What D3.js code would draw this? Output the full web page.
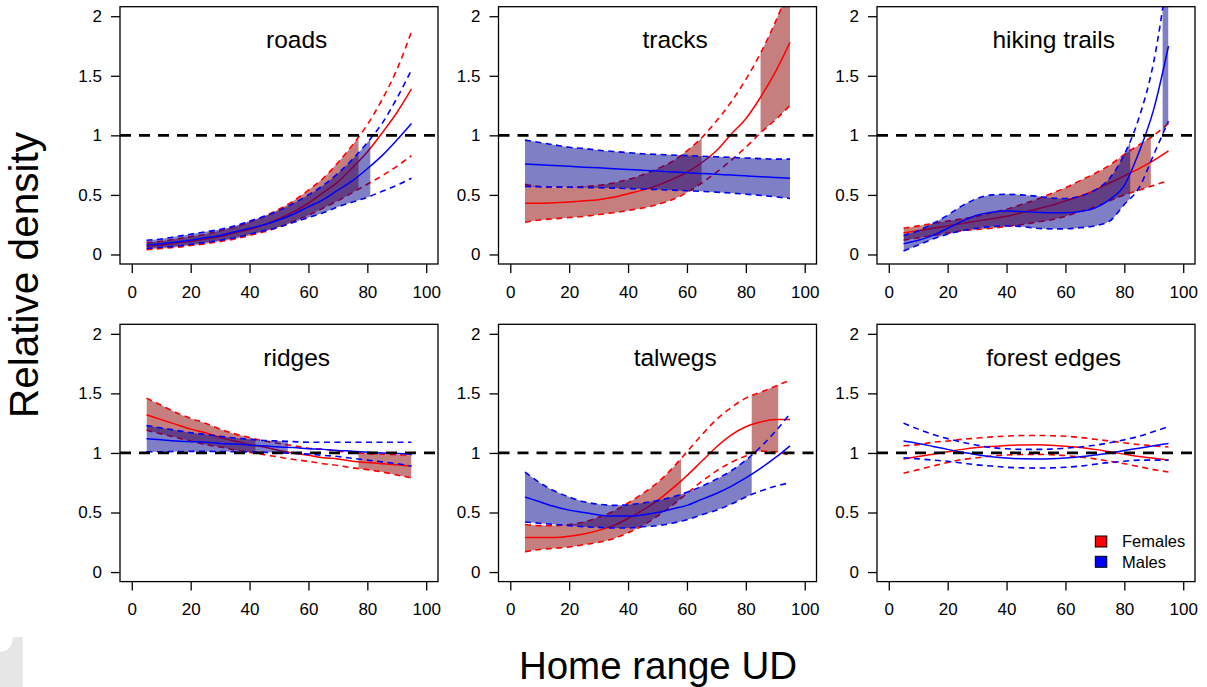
<!DOCTYPE html>
<html>
<head>
<meta charset="utf-8">
<script src="https://cdn.jsdelivr.net/npm/d3@7"></script>
<style>
html,body{margin:0;padding:0;background:#fff;}
svg{display:block;font-family:"Liberation Sans",Arial,Helvetica,sans-serif;}
</style>
</head>
<body>
<svg id="chart" width="1207" height="687"></svg>
<script>
// ---------------- DATA ----------------
const panelNames = ["roads", "tracks", "hiking trails", "ridges", "talwegs", "forest edges"];
const homeRange = [5, 10, 15, 20, 25, 30, 35, 40, 45, 50, 55, 60, 65, 70, 75, 80, 85, 90, 95];
const xTicks = [0, 20, 40, 60, 80, 100];
const yTicks = [0, 0.5, 1, 1.5, 2];
const yTickLabels = ["0", "0.5", "1", "1.5", "2"];
const seriesNames = ["Females", "Males"];

// roads
const roadsF = [0.07,0.08,0.095,0.11,0.13,0.15,0.18,0.21,0.25,0.30,0.36,0.43,0.52,0.61,0.73,0.86,1.02,1.19,1.39];
const roadsFlo = [0.04,0.05,0.06,0.075,0.09,0.11,0.13,0.16,0.19,0.23,0.28,0.33,0.39,0.45,0.52,0.59,0.66,0.74,0.83];
const roadsFhi = [0.10,0.11,0.13,0.15,0.17,0.20,0.23,0.27,0.32,0.38,0.45,0.54,0.64,0.77,0.92,1.09,1.30,1.55,1.87];
const roadsM = [0.08,0.09,0.105,0.12,0.14,0.16,0.19,0.22,0.25,0.29,0.34,0.40,0.46,0.54,0.62,0.72,0.83,0.96,1.10];
const roadsMlo = [0.05,0.06,0.07,0.085,0.10,0.12,0.14,0.17,0.20,0.23,0.27,0.31,0.35,0.40,0.44,0.48,0.53,0.58,0.64];
const roadsMhi = [0.12,0.13,0.15,0.17,0.19,0.21,0.24,0.28,0.32,0.37,0.43,0.50,0.58,0.68,0.80,0.94,1.10,1.31,1.55];
// tracks
const tracksF = [0.43,0.43,0.435,0.44,0.45,0.46,0.48,0.51,0.54,0.58,0.63,0.69,0.77,0.87,1.01,1.14,1.32,1.53,1.78];
const tracksFlo = [0.27,0.29,0.30,0.31,0.32,0.335,0.35,0.37,0.39,0.42,0.46,0.52,0.60,0.69,0.79,0.90,1.02,1.13,1.25];
const tracksFhi = [0.59,0.57,0.565,0.565,0.57,0.58,0.60,0.63,0.67,0.72,0.78,0.87,0.98,1.12,1.28,1.47,1.69,1.95,2.25];
const tracksM = [0.76,0.753,0.747,0.74,0.733,0.727,0.72,0.713,0.707,0.70,0.693,0.687,0.68,0.673,0.667,0.66,0.653,0.647,0.64];
const tracksMlo = [0.57,0.568,0.566,0.564,0.562,0.56,0.557,0.553,0.549,0.545,0.54,0.535,0.53,0.523,0.515,0.506,0.496,0.484,0.47];
const tracksMhi = [0.96,0.94,0.92,0.90,0.89,0.875,0.865,0.855,0.845,0.84,0.835,0.83,0.825,0.82,0.815,0.81,0.805,0.80,0.80];
// hiking trails
const hikingF = [0.18,0.20,0.22,0.24,0.26,0.28,0.30,0.32,0.35,0.38,0.41,0.45,0.49,0.54,0.60,0.66,0.72,0.79,0.87];
const hikingFlo = [0.12,0.14,0.16,0.18,0.20,0.21,0.22,0.235,0.25,0.27,0.29,0.32,0.36,0.40,0.45,0.50,0.54,0.58,0.62];
const hikingFhi = [0.22,0.24,0.26,0.28,0.30,0.32,0.35,0.38,0.42,0.46,0.51,0.56,0.62,0.68,0.75,0.84,0.92,1.00,1.10];
const hikingM = [0.09,0.12,0.16,0.22,0.28,0.33,0.355,0.365,0.36,0.355,0.35,0.35,0.36,0.39,0.46,0.58,0.86,1.22,1.75];
const hikingMlo = [0.03,0.08,0.13,0.17,0.20,0.22,0.235,0.24,0.235,0.22,0.215,0.215,0.225,0.24,0.28,0.42,0.56,0.84,1.12];
const hikingMhi = [0.16,0.20,0.26,0.33,0.41,0.47,0.50,0.505,0.50,0.49,0.475,0.47,0.49,0.54,0.64,0.84,1.15,1.62,2.40];
// ridges
const ridgesF = [1.32,1.28,1.24,1.20,1.17,1.13,1.10,1.07,1.05,1.02,1.00,0.98,0.96,0.95,0.93,0.92,0.91,0.90,0.89];
const ridgesFlo = [1.19,1.16,1.13,1.10,1.07,1.05,1.025,1.005,0.985,0.965,0.945,0.93,0.91,0.895,0.875,0.86,0.84,0.815,0.79];
const ridgesFhi = [1.46,1.40,1.34,1.29,1.25,1.20,1.16,1.13,1.10,1.08,1.06,1.04,1.03,1.015,1.005,0.995,0.99,0.985,0.98];
const ridgesM = [1.12,1.11,1.10,1.095,1.09,1.08,1.075,1.065,1.06,1.05,1.045,1.035,1.03,1.02,1.015,1.005,1.00,0.995,0.99];
const ridgesMlo = [1.01,1.01,1.012,1.013,1.013,1.012,1.01,1.008,1.005,1.002,0.997,0.99,0.98,0.97,0.955,0.94,0.925,0.91,0.89];
const ridgesMhi = [1.23,1.21,1.19,1.17,1.155,1.14,1.125,1.115,1.105,1.10,1.095,1.09,1.09,1.09,1.09,1.09,1.09,1.09,1.09];
// talwegs
const talwegsF = [0.29,0.29,0.29,0.30,0.32,0.35,0.39,0.45,0.52,0.60,0.70,0.81,0.93,1.05,1.15,1.22,1.26,1.28,1.28];
const talwegsFlo = [0.17,0.19,0.20,0.21,0.23,0.25,0.28,0.33,0.39,0.47,0.56,0.66,0.76,0.85,0.92,0.975,1.015,1.01,0.98];
const talwegsFhi = [0.40,0.39,0.39,0.40,0.42,0.46,0.51,0.58,0.66,0.75,0.87,1.01,1.15,1.28,1.38,1.46,1.51,1.56,1.61];
const talwegsM = [0.63,0.59,0.55,0.52,0.50,0.48,0.47,0.47,0.48,0.50,0.53,0.56,0.61,0.66,0.72,0.79,0.87,0.96,1.06];
const talwegsMlo = [0.42,0.41,0.40,0.39,0.38,0.375,0.37,0.37,0.38,0.39,0.41,0.44,0.48,0.52,0.57,0.63,0.68,0.72,0.75];
const talwegsMhi = [0.84,0.75,0.68,0.63,0.59,0.57,0.56,0.565,0.58,0.60,0.63,0.67,0.72,0.78,0.85,0.94,1.05,1.18,1.33];
// forest edges
const forestF = [0.95,0.97,0.99,1.01,1.03,1.045,1.055,1.063,1.067,1.068,1.065,1.057,1.045,1.03,1.01,0.99,0.97,0.955,0.94];
const forestFlo = [0.83,0.86,0.89,0.92,0.945,0.96,0.975,0.983,0.987,0.988,0.985,0.978,0.965,0.95,0.93,0.91,0.885,0.86,0.84];
const forestFhi = [1.06,1.07,1.09,1.10,1.115,1.125,1.135,1.142,1.146,1.147,1.145,1.14,1.13,1.115,1.10,1.085,1.07,1.06,1.05];
const forestM = [1.10,1.08,1.055,1.03,1.005,0.985,0.968,0.957,0.951,0.95,0.952,0.958,0.968,0.982,1.00,1.02,1.04,1.06,1.08];
const forestMlo = [0.96,0.95,0.94,0.93,0.915,0.90,0.89,0.88,0.875,0.873,0.875,0.88,0.89,0.905,0.92,0.93,0.94,0.94,0.94];
const forestMhi = [1.25,1.20,1.155,1.12,1.09,1.065,1.045,1.035,1.03,1.03,1.032,1.04,1.05,1.065,1.085,1.11,1.14,1.18,1.22];

// ranges of home range UD where the confidence band excludes 1 (shaded)
const shadeF = [[[5,77]], [[5,65],[85,95]], [[5,89]], [[5,42],[77,95]], [[5,58],[82,91]], []];
const shadeM = [[[5,81]], [[5,95]], [[5,82],[93,95]], [[5,53]], [[5,82]], []];

// ---------------- BUILD ----------------
const femaleSets = [
  [roadsF, roadsFlo, roadsFhi], [tracksF, tracksFlo, tracksFhi], [hikingF, hikingFlo, hikingFhi],
  [ridgesF, ridgesFlo, ridgesFhi], [talwegsF, talwegsFlo, talwegsFhi], [forestF, forestFlo, forestFhi]];
const maleSets = [
  [roadsM, roadsMlo, roadsMhi], [tracksM, tracksMlo, tracksMhi], [hikingM, hikingMlo, hikingMhi],
  [ridgesM, ridgesMlo, ridgesMhi], [talwegsM, talwegsMlo, talwegsMhi], [forestM, forestMlo, forestMhi]];

const svg = d3.select("#chart");
const W = 318, H = 257.3;
const colLeft = [120, 498.5, 877];
const rowTop = [6.7, 324.3];

const styles = {
  F: {line: "#ff0000", fill: "#8b0000", op: 0.5},
  M: {line: "#0000ff", fill: "#00008b", op: 0.5}
};

panelNames.forEach((name, i) => {
  const col = i % 3, row = Math.floor(i / 3);
  const left = colLeft[col], top = rowTop[row];
  const x = d3.scaleLinear().domain([-4, 104]).range([left, left + W]);
  const y = d3.scaleLinear().domain([-0.08, 2.08]).range([top + H, top]);
  const g = svg.append("g");

  const clipId = "clip" + i;
  svg.append("clipPath").attr("id", clipId)
    .append("rect").attr("x", left).attr("y", top).attr("width", W).attr("height", H);

  const plot = g.append("g").attr("clip-path", `url(#${clipId})`);

  const drawSeries = (sets, shades, st, key) => {
    const [mean, lo, hi] = sets;
    const pts = homeRange.map((h, k) => ({x: h, m: mean[k], lo: lo[k], hi: hi[k]}));
    const area = d3.area().curve(d3.curveMonotoneX)
      .x(d => x(d.x)).y0(d => y(d.lo)).y1(d => y(d.hi));
    shades.forEach((r, j) => {
      const cid = `sc${i}${key}${j}`;
      svg.append("clipPath").attr("id", cid).append("rect")
        .attr("x", x(r[0])).attr("y", top).attr("width", x(r[1]) - x(r[0])).attr("height", H);
      plot.append("g").attr("clip-path", `url(#${cid})`)
        .append("path").datum(pts).attr("d", area)
        .attr("fill", st.fill).attr("fill-opacity", st.op).attr("stroke", "none");
    });
    const line = acc => d3.line().curve(d3.curveMonotoneX).x(d => x(d.x)).y(d => y(acc(d)));
    plot.append("path").datum(pts).attr("d", line(d => d.lo))
      .attr("fill", "none").attr("stroke", st.line).attr("stroke-width", 1.6).attr("stroke-dasharray", "6,4.5");
    plot.append("path").datum(pts).attr("d", line(d => d.hi))
      .attr("fill", "none").attr("stroke", st.line).attr("stroke-width", 1.6).attr("stroke-dasharray", "6,4.5");
    plot.append("path").datum(pts).attr("d", line(d => d.m))
      .attr("fill", "none").attr("stroke", st.line).attr("stroke-width", 1.5);
  };

  drawSeries(femaleSets[i], shadeF[i], styles.F, "F");
  drawSeries(maleSets[i], shadeM[i], styles.M, "M");

  // reference line at 1
  plot.append("line").attr("x1", left).attr("x2", left + W)
    .attr("y1", y(1)).attr("y2", y(1))
    .attr("stroke", "#000").attr("stroke-width", 2.7).attr("stroke-dasharray", "11,8");

  // box
  g.append("rect").attr("x", left).attr("y", top).attr("width", W).attr("height", H)
    .attr("fill", "none").attr("stroke", "#000").attr("stroke-width", 1.3);

  // x axis
  const xa = g.append("g").attr("transform", `translate(0,${top + H})`)
    .call(d3.axisBottom(x).tickValues(xTicks).tickSize(9).tickPadding(6).tickFormat(d3.format("d")));
  xa.select(".domain").remove();
  xa.selectAll("line").attr("stroke", "#000").attr("stroke-width", 1.3);
  xa.selectAll("text").attr("font-size", 17).attr("font-family", "Liberation Sans, Arial, sans-serif")
    .attr("fill", "#000").attr("dy", "1.1em");

  // y axis
  const ya = g.append("g").attr("transform", `translate(${left},0)`)
    .call(d3.axisLeft(y).tickValues(yTicks).tickSize(9).tickPadding(9)
      .tickFormat((d, k) => yTickLabels[k]));
  ya.select(".domain").remove();
  ya.selectAll("line").attr("stroke", "#000").attr("stroke-width", 1.3);
  ya.selectAll("text").attr("font-size", 17).attr("font-family", "Liberation Sans, Arial, sans-serif")
    .attr("fill", "#000");

  // panel title
  g.append("text").attr("x", x(56)).attr("y", y(1.8)).attr("dy", "0.33em")
    .attr("text-anchor", "middle").attr("font-size", 24.5).attr("fill", "#000").text(name);

  // legend in last panel
  if (i === 5) {
    const lg = g.append("g");
    [styles.F.line, styles.M.line].forEach((c, k) => {
      const cy = 541.5 + k * 20.3;
      lg.append("rect").attr("x", 1095.3).attr("y", cy - 5.5).attr("width", 11.5).attr("height", 11)
        .attr("fill", c).attr("stroke", "#000").attr("stroke-width", 1);
      lg.append("text").attr("x", 1122).attr("y", cy).attr("dy", "0.35em")
        .attr("font-size", 16.5).attr("fill", "#000").text(seriesNames[k]);
    });
  }
});

// axis titles
svg.append("text").attr("x", 658).attr("y", 679).attr("text-anchor", "middle")
  .attr("font-size", 38.5).attr("fill", "#000").text("Home range UD");
svg.append("text").attr("transform", "translate(38,275) rotate(-90)").attr("text-anchor", "middle")
  .attr("font-size", 40.5).attr("fill", "#000").text("Relative density");

// faint grey corner mark in the reference
svg.append("path").attr("d", "M13,637 L22.7,637 L22.7,687 L0,687 L0,652 Q12,651 13,637 Z")
  .attr("fill", "#e6e6e6");
</script>
</body>
</html>
